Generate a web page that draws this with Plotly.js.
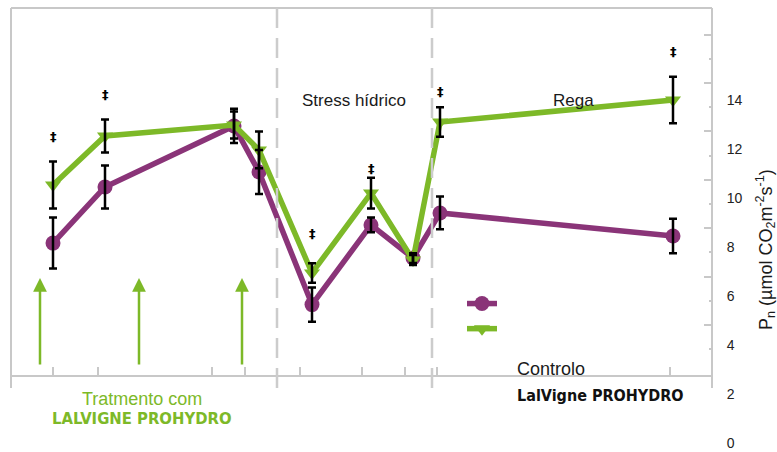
<!DOCTYPE html>
<html>
<head>
<meta charset="utf-8">
<script src="https://cdn.plot.ly/plotly-3.0.1.min.js"></script>
<style>html,body{margin:0;padding:0;background:#fff;}#chart{width:777px;height:452px;}</style>
</head>
<body>
<div id="chart"></div>
<script>
// ---- data ----
const days = [4.2, 9.4, 22.3, 24.8, 30.1, 36.0, 40.2, 42.9, 66.2];
const controlo = [8.16, 10.45, 12.94, 11.06, 5.65, 8.90, 7.55, 9.39, 8.45];
const controloErr = [1.04, 0.88, 0.70, 0.90, 0.70, 0.30, 0.20, 0.67, 0.70];
const prohydro = [10.53, 12.53, 12.98, 11.96, 6.94, 10.20, 7.47, 13.10, 14.00];
const prohydroErr = [0.96, 0.67, 0.55, 0.75, 0.40, 0.63, 0.20, 0.60, 0.95];
const axisTickDays = [4.2, 8.7, 20.1, 23.4, 28.9, 35.1, 39.4, 42.6, 65.9];
const phaseBoundaries = [26.6, 42.1];
const treatmentDays = [2.9, 12.8, 23.1];
const sigIndex = [0, 1, 4, 5, 7, 8];
const sigY = [12.53, 14.24, 8.57, 11.22, 14.33, 15.96];
const yTickLabels = [0, 2, 4, 6, 8, 10, 12, 14];
const frameTicksMajor = [2, 4, 6, 8, 10, 12, 14];
const frameTicksMinor = [1, 3, 5, 7, 9, 11, 13];
const seriesNames = ['Controlo', 'LalVigne PROHYDRO'];

const PURPLE = '#8a3478';
const GREEN = '#7db928';
const GRID = '#c8c8c8';

const traces = [
  {x: days, y: controlo, name: seriesNames[0], mode: 'lines+markers', type: 'scatter',
   line: {color: PURPLE, width: 5.5}, marker: {symbol: 'circle', size: 15, color: PURPLE}},
  {x: days, y: prohydro, name: seriesNames[1], mode: 'lines+markers', type: 'scatter',
   line: {color: GREEN, width: 5.5}, marker: {symbol: 'triangle-down', size: 14, color: GREEN}},
  {x: days, y: controlo, mode: 'markers', type: 'scatter', showlegend: false, hoverinfo: 'skip',
   marker: {size: 1, opacity: 0},
   error_y: {type: 'data', array: controloErr, color: '#000', thickness: 2.5, width: 4}},
  {x: days, y: prohydro, mode: 'markers', type: 'scatter', showlegend: false, hoverinfo: 'skip',
   marker: {size: 1, opacity: 0},
   error_y: {type: 'data', array: prohydroErr, color: '#000', thickness: 2.5, width: 4}},
  {x: [], y: [], yaxis: 'y2', mode: 'markers', type: 'scatter', showlegend: false}
];

// pixel helpers for paper coordinates (plot area: x 11..712, y 8..452)
const L = 11, R = 712, T = 8, B = 452;
const px = v => (v - L) / (R - L);
const py = v => (B - v) / (B - T);

const annotations = [];
sigIndex.forEach((idx, k) => {
  annotations.push({x: days[idx], y: sigY[k], xref: 'x', yref: 'y', text: '‡', showarrow: false,
    font: {family: 'DejaVu Sans', size: 13, color: '#000', weight: 'bold'}});
});
treatmentDays.forEach(d => {
  annotations.push({x: d, y: 6.73, xref: 'x', yref: 'y', text: '', showarrow: true,
    ax: 0, ay: 88, arrowhead: 2, arrowsize: 1.1, arrowwidth: 2.5, arrowcolor: GREEN});
});
const txt = (text, x, y, font, xanchor) => ({text, x: px(x), y: py(y), xref: 'paper', yref: 'paper',
  showarrow: false, xanchor: xanchor || 'center', yanchor: 'middle', font});
const arial = (s, c) => ({family: 'Liberation Sans, Arial, sans-serif', size: s, color: c || '#1a1a1a'});
const cond = (s, c) => ({family: 'DejaVu Sans Condensed, DejaVu Sans, sans-serif', size: s, color: c || '#111', weight: 'bold'});
annotations.push(txt('Stress hídrico', 354, 100, arial(17)));
annotations.push(txt('Rega', 573, 100, arial(17)));
annotations.push(txt('Controlo', 515, 369, arial(18), 'left'));
annotations.push(txt('LalVigne PROHYDRO', 515, 395, cond(16), 'left'));
annotations.push(txt('Tratmento com', 142, 399, arial(18, GREEN)));
annotations.push(txt('LALVIGNE PROHYDRO', 142, 418, cond(16.5, GREEN)));
annotations.push({text: 'P<sub>n</sub> (µmol CO<sub>2</sub>m<sup>-2</sup>s<sup>-1</sup>)',
  x: px(765), y: py(250), xref: 'paper', yref: 'paper', showarrow: false, textangle: -90,
  xanchor: 'center', yanchor: 'middle', font: arial(18)});

const shapes = [
  {type: 'line', xref: 'paper', yref: 'paper', x0: 0, x1: 0, y0: py(388), y1: 1, line: {color: GRID, width: 2}},
  {type: 'line', xref: 'paper', yref: 'paper', x0: 0, x1: 1, y0: 1, y1: 1, line: {color: GRID, width: 2}},
  {type: 'line', xref: 'paper', yref: 'paper', x0: 1, x1: 1, y0: py(388), y1: 1, line: {color: GRID, width: 2}}
];
phaseBoundaries.forEach(d => shapes.push({type: 'line', xref: 'x', yref: 'paper', x0: d, x1: d,
  y0: py(388), y1: 1, line: {color: '#cccccc', width: 2.5, dash: '20px,10px'}}));

const layout = {
  width: 777, height: 452,
  margin: {l: L, r: 777 - R, t: T, b: 0, pad: 0},
  paper_bgcolor: '#fff', plot_bgcolor: 'rgba(0,0,0,0)',
  showlegend: true,
  legend: {x: px(462), y: py(286), xanchor: 'left', yanchor: 'top', bgcolor: 'rgba(0,0,0,0)',
    font: {size: 17, color: 'rgba(0,0,0,0)'}},
  xaxis: {range: [0, 70.1], anchor: 'free', position: py(376), showgrid: false, zeroline: false,
    showline: true, linecolor: GRID, linewidth: 2, tickmode: 'array', tickvals: axisTickDays,
    ticks: 'inside', ticklen: 8, tickwidth: 2, tickcolor: GRID, showticklabels: false},
  yaxis: {range: [-0.367, 17.755], side: 'right', anchor: 'x', showgrid: false, zeroline: false,
    showline: false, tickmode: 'array', tickvals: yTickLabels, ticktext: yTickLabels.map(String),
    ticks: 'outside', ticklen: 11, tickcolor: 'rgba(0,0,0,0)',
    tickfont: {family: 'Liberation Sans Narrow, Arial Narrow, Liberation Sans, Arial', size: 14, color: '#222'}},
  yaxis2: {range: [-3.242, 15.097], overlaying: 'y', side: 'right', anchor: 'x', showgrid: false,
    zeroline: false, showline: false, showticklabels: false, tickmode: 'array', tickvals: frameTicksMajor,
    ticks: 'inside', ticklen: 8, tickwidth: 2, tickcolor: GRID,
    minor: {tickmode: 'array', tickvals: frameTicksMinor, ticks: 'inside', ticklen: 3, tickwidth: 2, tickcolor: GRID, showgrid: false}},
  annotations, shapes
};

Plotly.newPlot('chart', traces, layout, {displayModeBar: false, responsive: false});
</script>
</body>
</html>
